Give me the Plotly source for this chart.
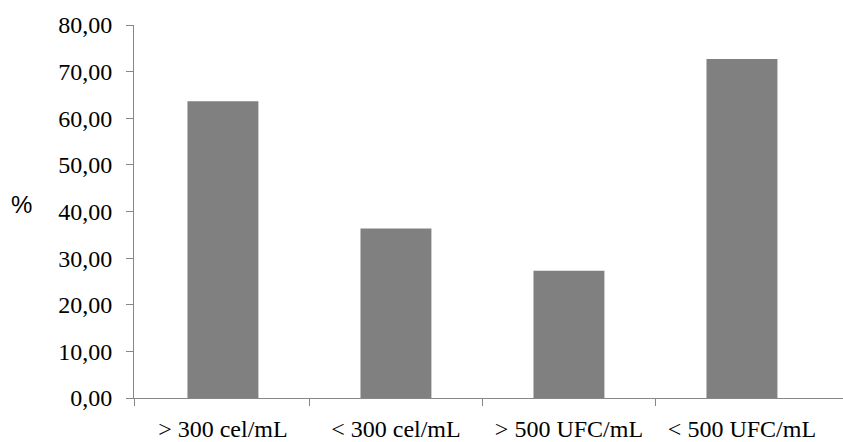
import plotly.graph_objects as go

categories = ["> 300 cel/mL", "< 300 cel/mL", "> 500 UFC/mL", "< 500 UFC/mL"]
values = [63.64, 36.36, 27.27, 72.73]
y_ticks = [0, 10, 20, 30, 40, 50, 60, 70, 80]

x_pos = list(range(len(categories)))
x_range = [-0.514, 3.584]
boundaries = [x_range[0]] + [i + 0.5 for i in range(len(categories) - 1)]

axis_color = "#878787"

fig = go.Figure(
    go.Bar(
        x=x_pos,
        y=values,
        width=0.41,
        marker=dict(color="#808080", line=dict(width=0)),
    )
)

fig.update_layout(
    width=843,
    height=442,
    margin=dict(l=134, r=0, t=25, b=42),
    plot_bgcolor="white",
    paper_bgcolor="white",
    separators=",.",
    showlegend=False,
    font=dict(family="Liberation Serif", size=24, color="black"),
)

fig.update_xaxes(
    range=x_range,
    tickmode="array",
    tickvals=x_pos,
    ticktext=categories,
    ticks="",
    showline=True,
    linecolor=axis_color,
    linewidth=1,
    showgrid=False,
    zeroline=False,
    ticklabelstandoff=9,
    minor=dict(
        tickmode="array",
        tickvals=boundaries,
        ticks="outside",
        ticklen=7,
        tickcolor=axis_color,
        tickwidth=1,
        showgrid=False,
    ),
)

fig.update_yaxes(
    range=[0, 80],
    tickmode="array",
    tickvals=y_ticks,
    tickformat=".2f",
    ticks="outside",
    ticklen=7,
    tickcolor=axis_color,
    tickwidth=1,
    showline=True,
    linecolor=axis_color,
    linewidth=1,
    showgrid=False,
    zeroline=False,
    ticklabelstandoff=9,
)

fig.add_annotation(
    text="%",
    xref="paper",
    yref="paper",
    x=-0.158,
    y=0.52,
    xanchor="center",
    yanchor="middle",
    showarrow=False,
    font=dict(family="Liberation Sans", size=24, color="black"),
)

fig.write_html("out.html")
